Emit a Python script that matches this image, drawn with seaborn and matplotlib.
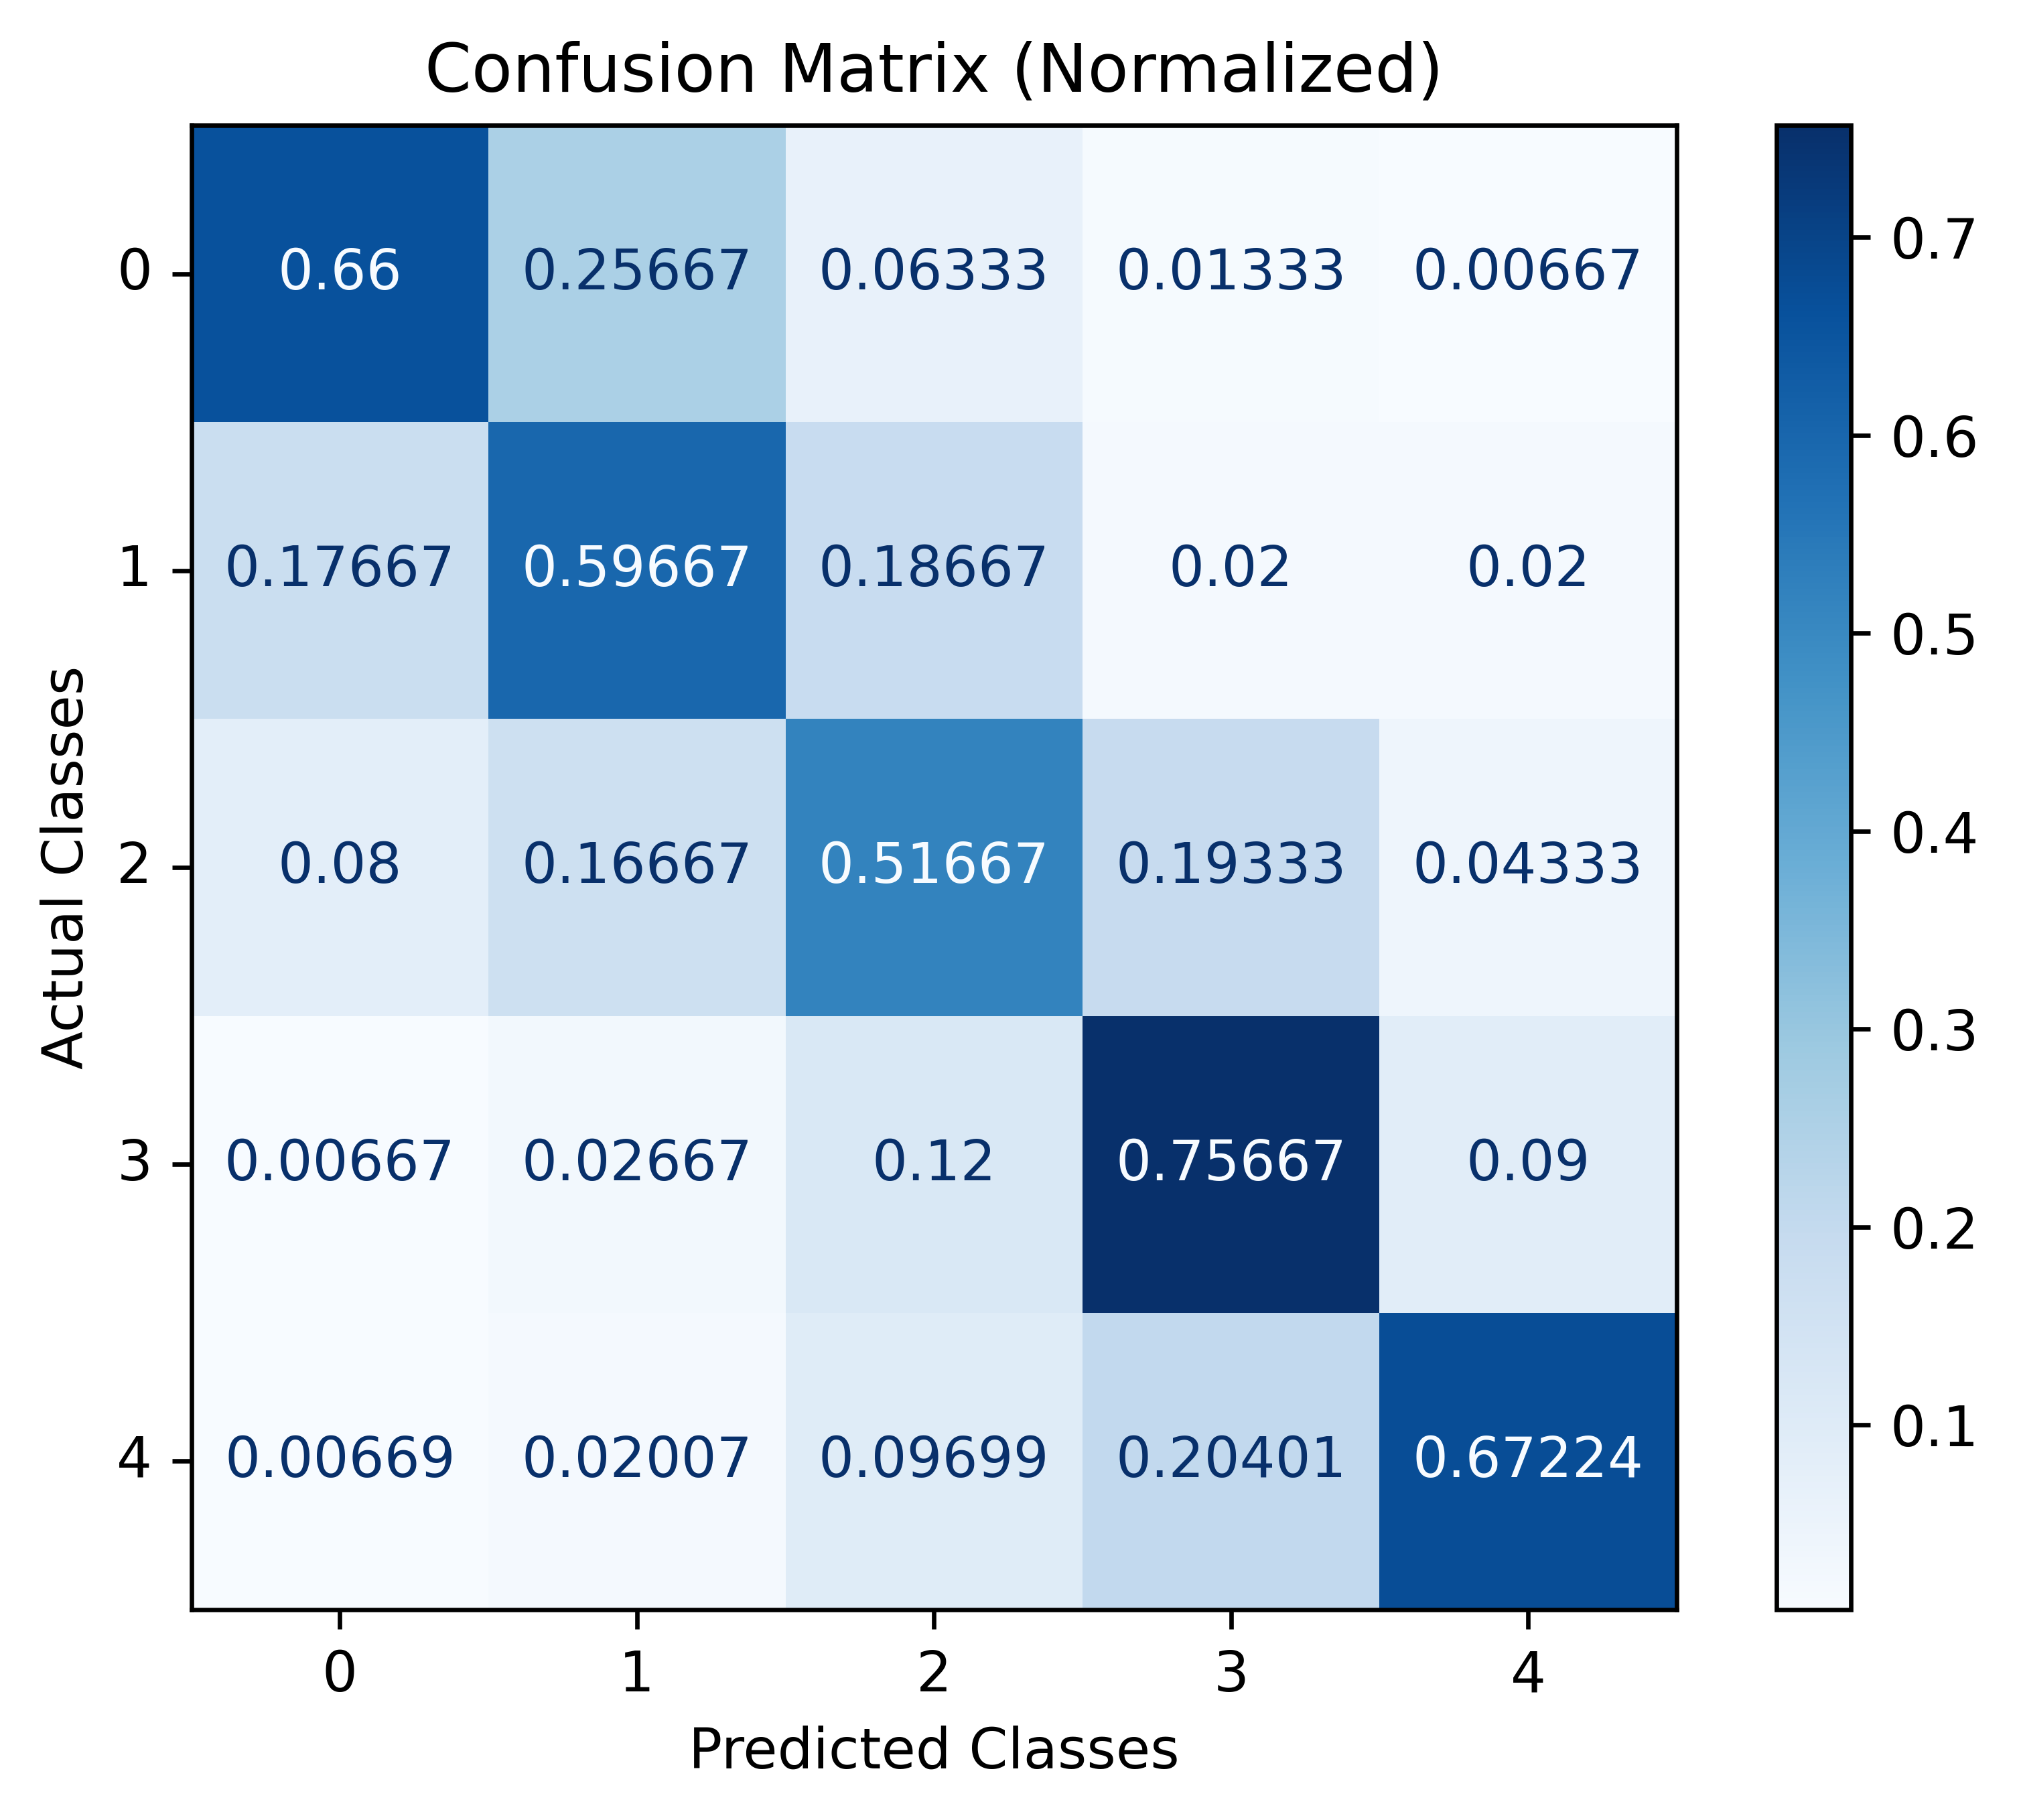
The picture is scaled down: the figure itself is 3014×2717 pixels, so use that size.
import numpy as np
import pandas as pd
import matplotlib
matplotlib.use("Agg")
import matplotlib.pyplot as plt
import seaborn as sns

classes = ["0", "1", "2", "3", "4"]
row0 = [0.66, 0.25667, 0.06333, 0.01333, 0.00667]
row1 = [0.17667, 0.59667, 0.18667, 0.02, 0.02]
row2 = [0.08, 0.16667, 0.51667, 0.19333, 0.04333]
row3 = [0.00667, 0.02667, 0.12, 0.75667, 0.09]
row4 = [0.00669, 0.02007, 0.09699, 0.20401, 0.67224]
label_rows = [
    ["0.66", "0.25667", "0.06333", "0.01333", "0.00667"],
    ["0.17667", "0.59667", "0.18667", "0.02", "0.02"],
    ["0.08", "0.16667", "0.51667", "0.19333", "0.04333"],
    ["0.00667", "0.02667", "0.12", "0.75667", "0.09"],
    ["0.00669", "0.02007", "0.09699", "0.20401", "0.67224"],
]

cm = pd.DataFrame([row0, row1, row2, row3, row4], index=classes, columns=classes)
labels = np.array(label_rows)

fig = plt.figure(figsize=(3014 / 600, 2717 / 600), dpi=600)
ax = fig.add_axes([0.0948, 0.1156, 0.7356, 0.8156])
cax = fig.add_axes([0.8799, 0.1156, 0.0368, 0.8156])

cmap = plt.get_cmap("Blues")
vmin, vmax = cm.values.min(), cm.values.max()
sns.heatmap(cm, annot=labels, fmt="", cmap=cmap, ax=ax, cbar_ax=cax,
            vmin=vmin, vmax=vmax, annot_kws={"fontsize": 10})

thresh = (vmax + vmin) / 2.0
flat = cm.values.flatten()
for t, v in zip(ax.texts, flat):
    t.set_color(cmap(0.0) if v >= thresh else cmap(1.0))

for s in ax.spines.values():
    s.set_visible(True)
    s.set_linewidth(0.8)
    s.set_color("black")
cb = ax.collections[0].colorbar
cb.outline.set_linewidth(0.8)
cb.outline.set_edgecolor("black")
cb.ax.tick_params(labelsize=10)

ax.set_xticklabels(classes, rotation=0)
ax.set_yticklabels(classes, rotation=0)
ax.tick_params(labelsize=10)
ax.set_xlabel("Predicted Classes", fontsize=10)
ax.set_ylabel("Actual Classes", fontsize=10)
ax.set_title("Confusion Matrix (Normalized)", fontsize=12)

fig.savefig("out.png", dpi=600)
